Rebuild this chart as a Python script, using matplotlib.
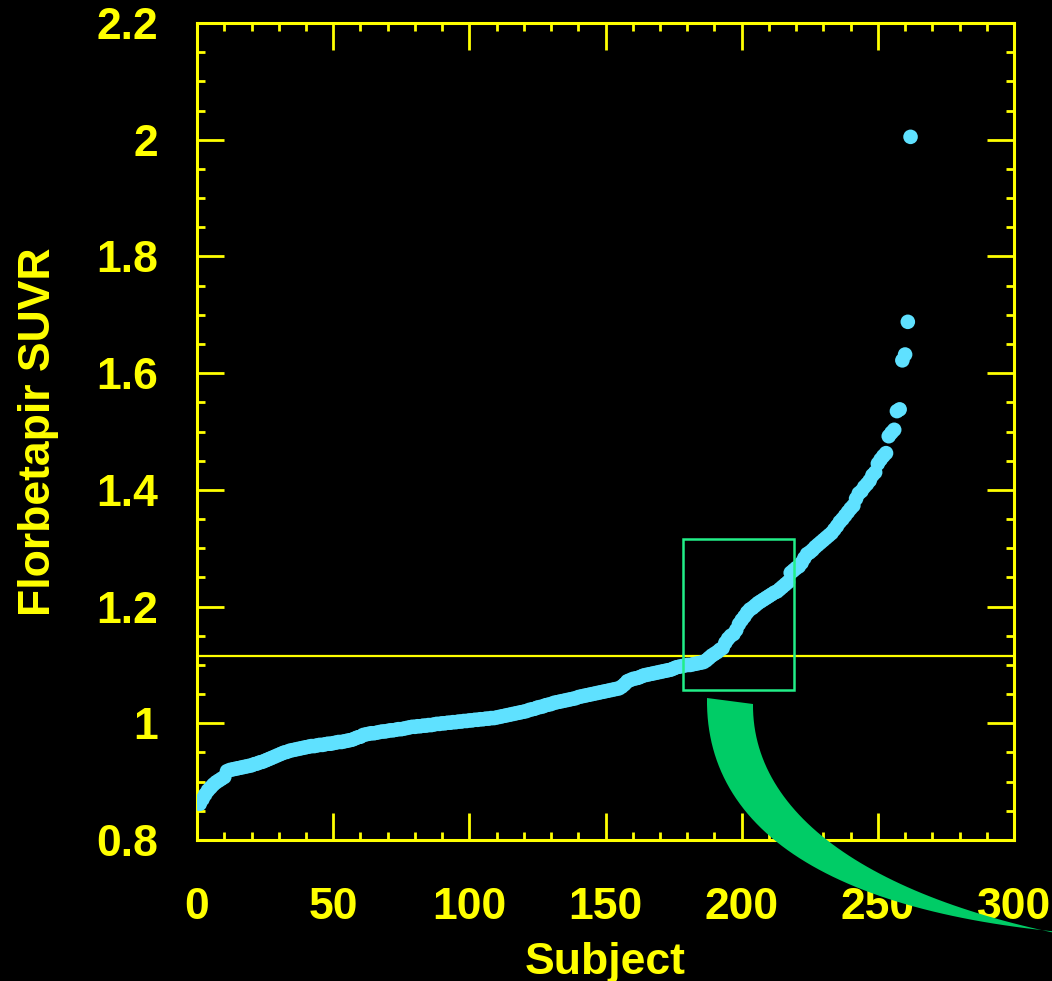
"""Florbetapir SUVR por sujeito, ordenado, com limiar e zoom destacado."""

import matplotlib

matplotlib.use("Agg")
import matplotlib.pyplot as plt
import numpy as np
from matplotlib.patches import PathPatch, Rectangle
from matplotlib.path import Path
from matplotlib.ticker import MultipleLocator

YELLOW = "#FFFF00"
CYAN = "#5FE1FF"
BOX_GREEN = "#22EE88"
ARROW_GREEN = "#00CC66"

# SUVR de cada sujeito, já em ordem crescente
suvr = [
    0.862, 0.870, 0.878, 0.885, 0.890, 0.895, 0.899, 0.902, 0.905, 0.908,
    0.918, 0.920, 0.921, 0.922, 0.923, 0.924, 0.925, 0.926, 0.927, 0.928,
    0.930, 0.931, 0.933, 0.934, 0.936, 0.938, 0.940, 0.942, 0.944, 0.946,
    0.948, 0.950, 0.951, 0.953, 0.954, 0.955, 0.956, 0.957, 0.958, 0.959,
    0.960, 0.961, 0.961, 0.962, 0.963, 0.963, 0.964, 0.965, 0.965, 0.966,
    0.967, 0.968, 0.968, 0.969, 0.970, 0.971, 0.972, 0.974, 0.976, 0.977,
    0.980, 0.981, 0.982, 0.983, 0.983, 0.984, 0.985, 0.986, 0.986, 0.987,
    0.988, 0.988, 0.989, 0.990, 0.990, 0.991, 0.992, 0.993, 0.994, 0.994,
    0.995, 0.995, 0.996, 0.996, 0.997, 0.997, 0.998, 0.999, 0.999, 1.000,
    1.000, 1.001, 1.001, 1.002, 1.002, 1.003, 1.003, 1.004, 1.004, 1.005,
    1.005, 1.006, 1.006, 1.007, 1.007, 1.008, 1.008, 1.009, 1.009, 1.010,
    1.011, 1.012, 1.013, 1.014, 1.015, 1.016, 1.017, 1.018, 1.019, 1.020,
    1.021, 1.023, 1.024, 1.025, 1.027, 1.028, 1.029, 1.031, 1.032, 1.033,
    1.035, 1.036, 1.037, 1.038, 1.039, 1.040, 1.041, 1.042, 1.043, 1.045,
    1.046, 1.047, 1.048, 1.049, 1.050, 1.051, 1.052, 1.053, 1.054, 1.055,
    1.056, 1.057, 1.058, 1.059, 1.060, 1.063, 1.067, 1.072, 1.074, 1.076,
    1.077, 1.078, 1.080, 1.082, 1.083, 1.084, 1.085, 1.086, 1.087, 1.088,
    1.089, 1.090, 1.091, 1.092, 1.094, 1.096, 1.097, 1.098, 1.099, 1.100,
    1.100, 1.101, 1.102, 1.103, 1.104, 1.105, 1.108, 1.112, 1.116, 1.119,
    1.122, 1.126, 1.129, 1.138, 1.145, 1.150, 1.153, 1.160, 1.170, 1.177,
    1.183, 1.190, 1.195, 1.198, 1.202, 1.206, 1.209, 1.212, 1.215, 1.218,
    1.221, 1.224, 1.226, 1.230, 1.234, 1.238, 1.242, 1.258, 1.262, 1.266,
    1.269, 1.275, 1.283, 1.290, 1.293, 1.297, 1.302, 1.306, 1.310, 1.314,
    1.318, 1.322, 1.326, 1.332, 1.338, 1.345, 1.350, 1.356, 1.362, 1.368,
    1.373, 1.385, 1.394, 1.398, 1.405, 1.410, 1.416, 1.425, 1.430, 1.445,
    1.452, 1.458, 1.463, 1.492, 1.498, 1.503, 1.535, 1.538, 1.622, 1.632,
    1.688, 2.005,
]

threshold = 1.115
zoom_x = [178.5, 219.2]
zoom_y = [1.057, 1.316]


def bezier(p0, p1, p2, p3, n=60):
    t = np.linspace(0, 1, n)[:, None]
    p0, p1, p2, p3 = map(np.array, (p0, p1, p2, p3))
    return (1 - t) ** 3 * p0 + 3 * (1 - t) ** 2 * t * p1 + 3 * (1 - t) * t ** 2 * p2 + t ** 3 * p3


def add_arrow(fig):
    """Seta curva verde (coordenadas em pixels da figura, origem no topo)."""
    w, h = fig.get_size_inches() * fig.dpi
    outer = bezier((707, 698), (705, 830), (830, 910), (1060, 932))
    inner = bezier((753, 704), (752, 815), (870, 895), (1060, 934))
    pts = np.vstack([outer, inner[::-1], outer[:1]])
    pts = np.column_stack([pts[:, 0] / w, 1 - pts[:, 1] / h])
    codes = [Path.MOVETO] + [Path.LINETO] * (len(pts) - 2) + [Path.CLOSEPOLY]
    patch = PathPatch(Path(pts, codes), transform=fig.transFigure,
                      facecolor=ARROW_GREEN, edgecolor="none", zorder=10)
    fig.patches.append(patch)


def main() -> None:
    plt.rcParams["font.family"] = ["Liberation Sans", "DejaVu Sans"]
    plt.rcParams["font.weight"] = "bold"

    fig = plt.figure(figsize=(10.52, 9.81), dpi=100, facecolor="black")
    ax = fig.add_axes([0.1873, 0.1437, 0.7766, 0.8328], facecolor="black")

    subjects = np.arange(1, len(suvr) + 1)
    ax.scatter(subjects, suvr, s=110, color=CYAN, edgecolors="none", zorder=3)

    ax.axhline(threshold, color=YELLOW, lw=1.6, zorder=2)
    ax.add_patch(Rectangle((zoom_x[0], zoom_y[0]), zoom_x[1] - zoom_x[0],
                           zoom_y[1] - zoom_y[0], fill=False,
                           edgecolor=BOX_GREEN, lw=1.8, zorder=4))

    ax.set_xlim(0, 300)
    ax.set_ylim(0.8, 2.2)
    ax.xaxis.set_major_locator(MultipleLocator(50))
    ax.xaxis.set_minor_locator(MultipleLocator(10))
    ax.yaxis.set_major_locator(MultipleLocator(0.2))
    ax.yaxis.set_minor_locator(MultipleLocator(0.05))
    ax.set_yticks([0.8, 1.0, 1.2, 1.4, 1.6, 1.8, 2.0, 2.2])
    ax.set_yticklabels(["0.8", "1", "1.2", "1.4", "1.6", "1.8", "2", "2.2"])

    for side in ax.spines.values():
        side.set_color(YELLOW)
        side.set_linewidth(2.2)
    ax.tick_params(which="both", direction="in", top=True, right=True,
                   color=YELLOW, width=2.0, labelcolor=YELLOW, labelsize=32)
    ax.tick_params(which="major", length=19.5)
    ax.tick_params(which="minor", length=6)
    ax.tick_params(axis="x", which="major", pad=34)
    ax.tick_params(axis="y", which="major", pad=28)

    ax.set_xlabel("Subject", color=YELLOW, fontsize=32, fontweight="bold", labelpad=10)
    ax.set_ylabel("Florbetapir SUVR", color=YELLOW, fontsize=32, fontweight="bold", labelpad=27)

    add_arrow(fig)
    fig.savefig("out.png", dpi=100, facecolor="black")
    plt.close(fig)


if __name__ == "__main__":
    main()
